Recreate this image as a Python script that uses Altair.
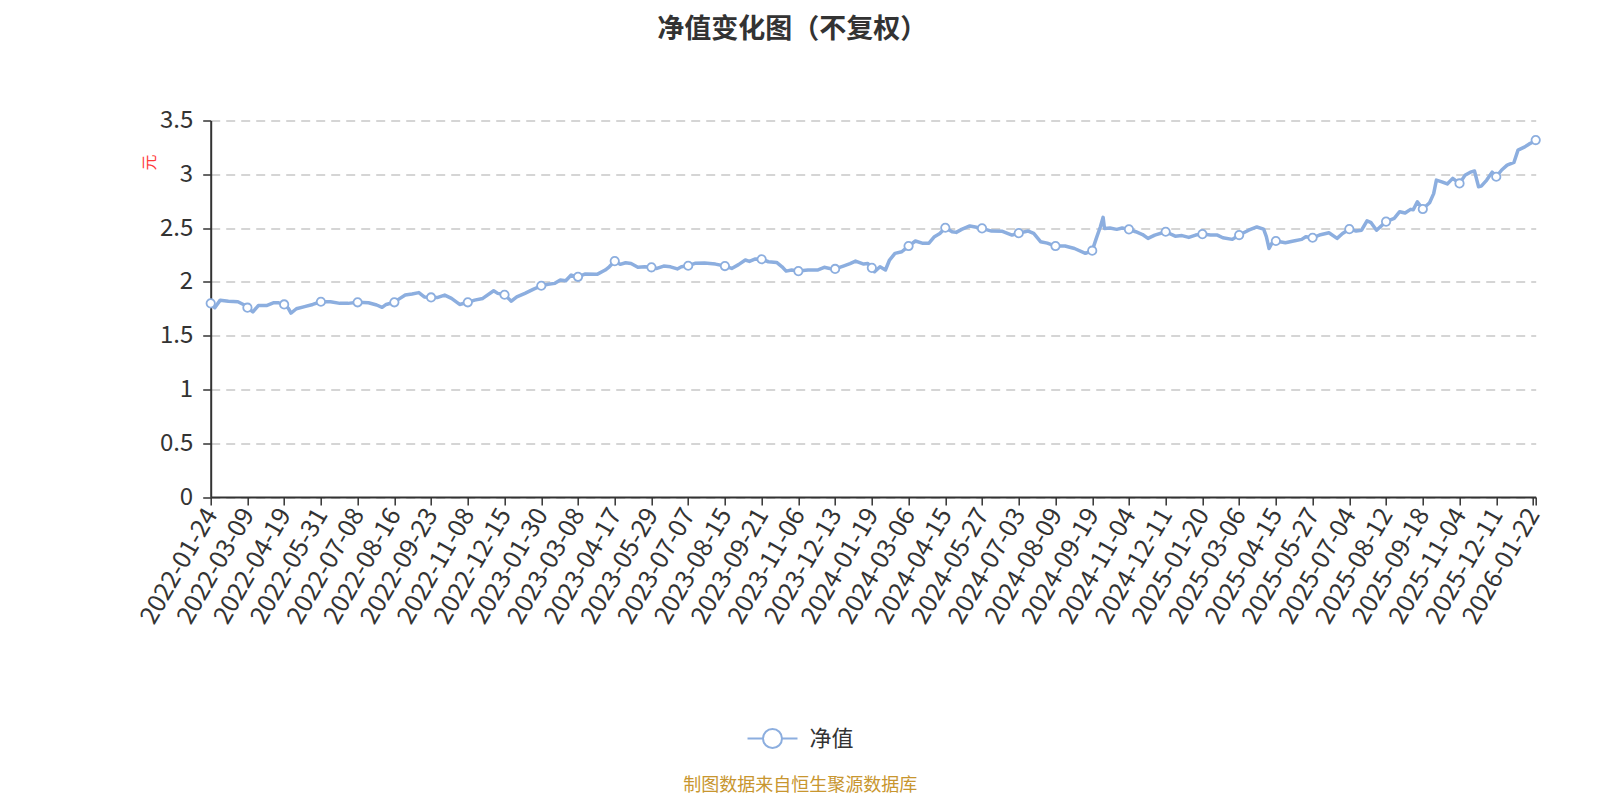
import json
import altair as alt
import pandas as pd

BLUE = "#8CAEDF"
FONT = "Noto Sans CJK SC"
TEXT = "#333333"

# x-axis category labels (one every 27 trading days)
TICK_DATES = [
    "2022-01-24", "2022-03-09", "2022-04-19", "2022-05-31", "2022-07-08", "2022-08-16",
    "2022-09-23", "2022-11-08", "2022-12-15", "2023-01-30", "2023-03-08", "2023-04-17",
    "2023-05-29", "2023-07-07", "2023-08-15", "2023-09-21", "2023-11-06", "2023-12-13",
    "2024-01-19", "2024-03-06", "2024-04-15", "2024-05-27", "2024-07-03", "2024-08-09",
    "2024-09-19", "2024-11-04", "2024-12-11", "2025-01-20", "2025-03-06", "2025-04-15",
    "2025-05-27", "2025-07-04", "2025-08-12", "2025-09-18", "2025-11-04", "2025-12-11",
    "2026-01-22",
]
STEP = 27
LAST_DAY = 974

# trading-day offset from 2022-01-24
DAY = [
    0, 3, 7, 13, 20, 24, 27, 31, 35, 41, 46, 50, 54, 57, 59, 63, 69, 75,
    81, 88, 95, 101, 108, 116, 122, 126, 129, 135, 138, 143, 148, 153, 157,
    162, 167, 172, 177, 183, 189, 194, 200, 208, 211, 216, 221, 225, 231, 237,
    243, 248, 253, 257, 261, 265, 270, 275, 284, 290, 293, 297, 301, 305, 309,
    314, 319, 324, 328, 333, 338, 343, 346, 351, 356, 363, 371, 378, 383, 388,
    393, 396, 400, 405, 410, 416, 420, 423, 427, 432, 439, 446, 451, 455, 459,
    465, 470, 474, 480, 483, 486, 488, 492, 496, 499, 503, 508, 513, 518, 523,
    528, 532, 536, 540, 545, 548, 552, 558, 562, 567, 574, 582, 589, 594, 601,
    605, 610, 615, 621, 628, 635, 643, 648, 651, 654, 656, 657, 661, 666, 670,
    675, 680, 685, 689, 694, 702, 709, 714, 719, 724, 729, 735, 740, 744, 751,
    756, 763, 769, 774, 776, 778, 780, 783, 790, 796, 802, 805, 810, 815, 822,
    828, 832, 837, 842, 846, 850, 853, 857, 864, 870, 874, 878, 882, 884, 887,
    891, 896, 899, 901, 905, 909, 913, 918, 922, 926, 929, 932, 934, 938, 942,
    945, 949, 953, 958, 961, 966, 969, 972, 974,
]
# unit net value (元)
NAV = [
    1.80, 1.76, 1.83, 1.82, 1.815, 1.79, 1.76, 1.72, 1.78, 1.78, 1.805, 1.805, 1.79, 1.755, 1.71, 1.75, 1.77, 1.79,
    1.815, 1.815, 1.80, 1.80, 1.81, 1.806, 1.785, 1.763, 1.79, 1.81, 1.837, 1.877, 1.887, 1.90, 1.86,
    1.855, 1.855, 1.877, 1.846, 1.79, 1.81, 1.83, 1.846, 1.917, 1.893, 1.88, 1.82, 1.86, 1.893, 1.93,
    1.964, 1.977, 1.986, 2.017, 2.01, 2.063, 2.047, 2.072, 2.07, 2.11, 2.14, 2.193, 2.163, 2.178, 2.17,
    2.135, 2.14, 2.135, 2.125, 2.147, 2.14, 2.12, 2.14, 2.15, 2.172, 2.175, 2.165, 2.147, 2.125, 2.16,
    2.203, 2.19, 2.212, 2.21, 2.187, 2.18, 2.14, 2.10, 2.11, 2.10, 2.11, 2.11, 2.135, 2.125, 2.12,
    2.147, 2.17, 2.193, 2.165, 2.17, 2.13, 2.094, 2.14, 2.11, 2.203, 2.265, 2.28, 2.333, 2.38, 2.36,
    2.36, 2.42, 2.45, 2.503, 2.466, 2.46, 2.488, 2.52, 2.51, 2.497, 2.472, 2.47, 2.435, 2.453, 2.472,
    2.45, 2.373, 2.36, 2.333, 2.333, 2.31, 2.265, 2.29, 2.404, 2.512, 2.60, 2.497, 2.50, 2.488, 2.50,
    2.488, 2.466, 2.44, 2.404, 2.435, 2.466, 2.425, 2.43, 2.413, 2.435, 2.444, 2.435, 2.435, 2.41, 2.395,
    2.435, 2.48, 2.51, 2.49, 2.42, 2.31, 2.357, 2.38, 2.364, 2.38, 2.395, 2.42, 2.41, 2.435, 2.456,
    2.404, 2.45, 2.49, 2.472, 2.48, 2.568, 2.55, 2.48, 2.56, 2.59, 2.652, 2.64, 2.674, 2.67, 2.744,
    2.677, 2.735, 2.82, 2.946, 2.93, 2.91, 2.962, 2.915, 2.99, 3.02, 3.03, 2.884, 2.89, 2.946, 3.02,
    2.977, 3.04, 3.085, 3.11, 3.225, 3.255, 3.28, 3.30, 3.318,
]
SERIES = "净值"
Y_TICKS = [0, 0.5, 1, 1.5, 2, 2.5, 3, 3.5]

df = pd.DataFrame({"day": DAY, "nav": NAV})
df["series"] = SERIES

x_ticks = [i * STEP for i in range(len(TICK_DATES))] + [LAST_DAY]
label_expr = (
    f"datum.value % {STEP} == 0 ? "
    f"{json.dumps(TICK_DATES)}[round(datum.value / {STEP})] : ''"
)

x_enc = alt.X(
    "day:Q",
    scale=alt.Scale(domain=[0, LAST_DAY], nice=False, zero=False),
    axis=alt.Axis(
        values=x_ticks,
        labelExpr=label_expr,
        labelAngle=-60,
        labelAlign="right",
        labelBaseline="middle",
        labelFontSize=25,
        labelColor=TEXT,
        labelFont=FONT,
        labelPadding=5,
        labelOverlap=False,
        labelFlush=False,
        labelBound=False,
        tickSize=8,
        tickWidth=1.5,
        tickColor=TEXT,
        domainColor=TEXT,
        domainWidth=2,
        grid=False,
        title="制图数据来自恒生聚源数据库",
        titleFont=FONT,
        titleFontSize=18,
        titleFontWeight="normal",
        titleColor="#C8962F",
        titleX=589,
        titleY=288,
        titleAlign="center",
        titleBaseline="middle",
    ),
)
y_enc = alt.Y(
    "nav:Q",
    scale=alt.Scale(domain=[0, 3.5], nice=False),
    axis=alt.Axis(
        values=Y_TICKS,
        format="~g",
        labelFontSize=24,
        labelColor=TEXT,
        labelFont=FONT,
        labelPadding=10,
        tickSize=8,
        tickWidth=1.5,
        tickColor=TEXT,
        domainColor=TEXT,
        domainWidth=2,
        grid=True,
        gridColor="#c8c8c8",
        gridDash=[9, 6],
        gridWidth=1.5,
        title="元",
        titleFont=FONT,
        titleFontSize=16,
        titleFontWeight="normal",
        titleColor="#FF3A3A",
        titleAngle=-90,
        titleX=-61.7,
        titleY=41.5,
        titleAlign="center",
        titleBaseline="middle",
    ),
)

LEGEND_PATH = "M-2.63,0L-1,0M1,0L2.63,0M-1,0A1,1,0,1,1,1,0A1,1,0,1,1,-1,0Z"

line = alt.Chart(df).mark_line(strokeWidth=3.5, strokeJoin="round").encode(
    x=x_enc,
    y=y_enc,
    color=alt.Color(
        "series:N",
        scale=alt.Scale(range=[BLUE]),
        legend=alt.Legend(
            title=None,
            orient="none",
            legendX=550.8,
            legendY=607,
            padding=0,
            symbolType=LEGEND_PATH,
            symbolSize=361,
            symbolStrokeWidth=2,
            symbolFillColor="white",
            symbolStrokeColor=BLUE,
            labelFontSize=22,
            labelFont=FONT,
            labelColor=TEXT,
            labelOffset=26,
        ),
    ),
)

points = (
    alt.Chart(df)
    .transform_filter(
        f"(datum.day % {STEP} == 0 && datum.day < {STEP * (len(TICK_DATES) - 1)}) || datum.day == {LAST_DAY}"
    )
    .mark_point(shape="circle", filled=True, fill="white", stroke=BLUE,
                strokeWidth=1.8, size=70, opacity=1)
    .encode(x=x_enc, y=y_enc)
)

chart = (
    alt.layer(line, points)
    .properties(
        width=1325,
        height=376.5,
        padding={"left": 202.7, "top": 112.5, "right": 56.3, "bottom": 301},
        autosize=alt.AutoSizeParams(type="none"),
        title=alt.Title(
            "净值变化图（不复权）",
            font=FONT,
            fontSize=27,
            fontWeight="bold",
            color=TEXT,
            anchor="middle",
            frame="group",
            dx=-81,
            offset=38,
            baseline="bottom",
        ),
    )
    .configure(background="white", font=FONT)
    .configure_view(stroke=None)
)

chart.save("out.html", embed_options={"renderer": "svg", "actions": False})
